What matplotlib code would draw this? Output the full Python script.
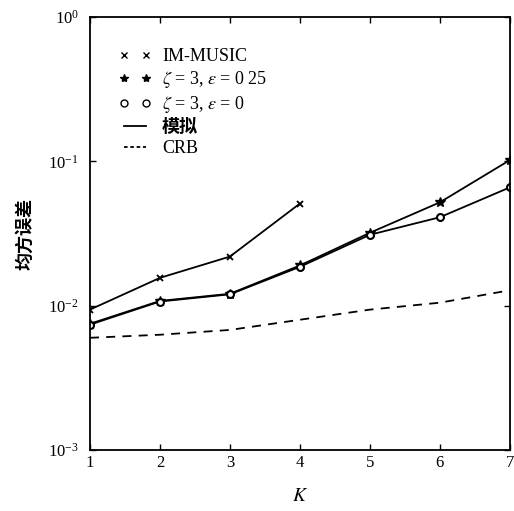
import matplotlib
matplotlib.use("Agg")
import matplotlib.pyplot as plt
from matplotlib.lines import Line2D
from matplotlib.ticker import NullLocator, FixedLocator

plt.rcParams['font.family'] = ['Liberation Serif', 'Noto Sans CJK SC', 'DejaVu Sans']
plt.rcParams['mathtext.fontset'] = 'stix'

k = [1, 2, 3, 4, 5, 6, 7]
k_music = [1, 2, 3, 4]
mse_music = [0.0094, 0.0156, 0.0219, 0.051]
mse_eps025 = [0.0075, 0.0108, 0.0121, 0.0190, 0.032, 0.052, 0.102]
mse_eps0 = [0.0074, 0.0107, 0.0120, 0.0186, 0.031, 0.041, 0.066]
crb = [0.0060, 0.0063, 0.0068, 0.0080, 0.0094, 0.0105, 0.0128]

fig = plt.figure(figsize=(5.14, 5.11), dpi=100)
ax = fig.add_axes([0.175, 0.119, 0.817, 0.848])

ax.plot(k_music, mse_music, color='black', lw=1.3, marker='x', ms=5, mew=1.3)
ax.plot(k, mse_eps025, color='black', lw=1.3, marker='*', ms=7)
ax.plot(k, mse_eps0, color='black', lw=1.3, marker='o', ms=5, mfc='white', mew=1.5)
ax.plot(k, crb, color='black', lw=1.3, ls=(0, (5, 4)))

ax.set_yscale('log')
ax.set_xlim(1, 7)
ax.set_ylim(1e-3, 1)
ax.set_xticks(k)
ax.yaxis.set_major_locator(FixedLocator([1e-3, 1e-2, 1e-1, 1]))
ax.yaxis.set_minor_locator(NullLocator())
ax.tick_params(direction='in', length=4, width=1, labelsize=12, top=True, right=True)
ax.tick_params(axis='y', pad=8)
for s in ax.spines.values():
    s.set_linewidth(1.3)

ax.set_xlabel('$K$', fontsize=14, labelpad=12)
ax.set_ylabel('均方误差', fontsize=13, labelpad=10, fontweight='bold')

handles = [
    Line2D([], [], color='black', ls='none', marker='x', ms=5),
    Line2D([], [], color='black', ls='none', marker='*', ms=6),
    Line2D([], [], color='black', ls='none', marker='o', ms=5, mfc='white'),
    Line2D([], [], color='black', lw=1.3),
    Line2D([], [], color='black', lw=1.3, ls=(0, (2, 1.5))),
]
labels = ['IM-MUSIC', r'$\zeta$ = 3, $\varepsilon$ = 0 25', r'$\zeta$ = 3, $\varepsilon$ = 0', '模拟', 'CRB']
leg = ax.legend(handles, labels, loc='upper left', bbox_to_anchor=(0.03, 0.965), numpoints=2,
                frameon=False, fontsize=13, handlelength=1.8, handletextpad=0.6,
                labelspacing=0.22)
leg.get_texts()[3].set_fontweight('bold')

fig.savefig('out.png', dpi=100)
